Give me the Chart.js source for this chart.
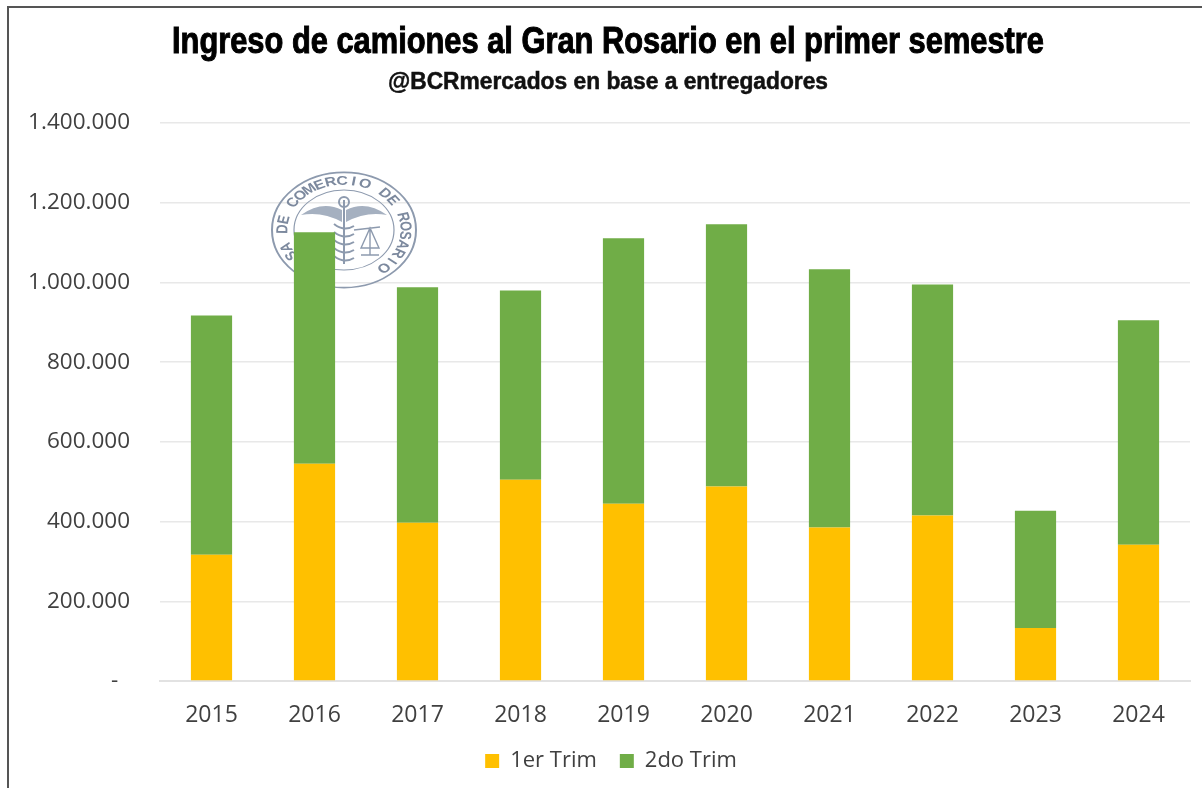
<!DOCTYPE html>
<html>
<head>
<meta charset="utf-8">
<title>Ingreso de camiones</title>
<script src="https://cdn.jsdelivr.net/npm/chart.js@4"></script>
<style>
    body { margin: 0; background: #fff; }
    #wrap { position: relative; width: 1202px; height: 788px; overflow: hidden; }
    #frame { position: absolute; left: 7px; top: 6px; width: 1200px; height: 800px; border-left: 2px solid #555; border-top: 2px solid #555; }
    canvas { position: absolute; left: 0; top: 0; }
</style>
</head>
<body>
<div id="wrap">
    <div id="frame"></div>
    <canvas id="truckChart" width="1202" height="788"></canvas>
</div>
<script>
const years = ['2015', '2016', '2017', '2018', '2019', '2020', '2021', '2022', '2023', '2024'];
const firstQuarter = [317000, 545000, 397000, 505000, 445000, 488000, 385000, 415000, 133000, 342000];
const secondQuarter = [600000, 581000, 591000, 475000, 666000, 658000, 648000, 580000, 294000, 563000];
const titleText = 'Ingreso de camiones al Gran Rosario en el primer semestre';
const subtitleText = '@BCRmercados en base a entregadores';
const sealText = 'BOLSA DE COMERCIO DE ROSARIO';

// Condensed headings: no narrow font is installed, so squeeze them with maxWidth
const headingPlugin = {
    id: 'heading',
    afterLayout(chart) {
        // legend sits a little right of the page centre
        chart.legend.left += 12;
    },
    afterDraw(chart) {
        const ctx = chart.ctx;
        ctx.save();
        ctx.textAlign = 'left';
        ctx.textBaseline = 'alphabetic';
        ctx.fillStyle = '#000';
        ctx.strokeStyle = '#000';
        ctx.font = 'bold 36px "Liberation Sans"';
        ctx.lineWidth = 1;
        ctx.fillText(titleText, 172, 53, 872);
        ctx.strokeText(titleText, 172, 53, 872);
        ctx.font = 'bold 23px "Liberation Sans"';
        ctx.fillStyle = '#111';
        ctx.strokeStyle = '#111';
        ctx.lineWidth = 0.5;
        ctx.fillText(subtitleText, 388, 89, 440);
        ctx.strokeText(subtitleText, 388, 89, 440);
        ctx.restore();
    }
};

// Seal printed behind the bars
const sealPlugin = {
    id: 'seal',
    beforeDatasetsDraw(chart) {
        const ctx = chart.ctx;
        const cx = 344, cy = 230;
        ctx.save();
        ctx.filter = 'blur(0.6px)';
        ctx.translate(cx, cy);
        ctx.scale(1, 0.8);
        ctx.strokeStyle = '#8d9aae';
        ctx.lineWidth = 2;
        ctx.beginPath();
        ctx.arc(0, 0, 72, 0, Math.PI * 2);
        ctx.stroke();
        ctx.lineWidth = 1.2;
        ctx.beginPath();
        ctx.arc(0, 0, 50, 0, Math.PI * 2);
        ctx.stroke();

        // lettering around the ring
        ctx.fillStyle = '#7c899e';
        ctx.font = 'bold 16px "Liberation Sans"';
        ctx.textAlign = 'center';
        ctx.textBaseline = 'middle';
        const step = 0.19;
        const start = 0.87 - (sealText.length - 1) * step;
        for (let i = 0; i < sealText.length; i++) {
            ctx.save();
            ctx.rotate(start + i * step);
            ctx.translate(61, 0);
            ctx.rotate(Math.PI / 2);
            ctx.fillText(sealText[i], 0, 0);
            ctx.restore();
        }
        ctx.restore();

        // caduceus and scale
        ctx.save();
        ctx.filter = 'blur(0.6px)';
        ctx.translate(cx, cy);
        ctx.strokeStyle = '#8d9aae';
        ctx.fillStyle = '#a5b0c0';
        ctx.lineWidth = 2;
        ctx.beginPath();
        ctx.moveTo(0, -30);
        ctx.lineTo(0, 34);
        ctx.stroke();
        ctx.beginPath();
        ctx.arc(0, -28, 5, 0, Math.PI * 2);
        ctx.stroke();
        for (const side of [-1, 1]) {
            ctx.beginPath();
            ctx.moveTo(side * 2, -20);
            ctx.quadraticCurveTo(side * 22, -30, side * 43, -15);
            ctx.quadraticCurveTo(side * 22, -19, side * 2, -8);
            ctx.closePath();
            ctx.fill();
        }
        ctx.beginPath();
        for (let i = 0; i < 5; i++) {
            const y = -6 + i * 8;
            ctx.moveTo(-10, y);
            ctx.quadraticCurveTo(0, y + 8, 10, y + 2);
        }
        ctx.stroke();
        // scale
        ctx.lineWidth = 1.4;
        ctx.beginPath();
        ctx.moveTo(10, 0);
        ctx.lineTo(36, -3);
        ctx.moveTo(26, -2);
        ctx.lineTo(17, 18);
        ctx.lineTo(35, 18);
        ctx.closePath();
        ctx.moveTo(26, -2);
        ctx.lineTo(26, 25);
        ctx.moveTo(17, 25);
        ctx.lineTo(35, 25);
        ctx.stroke();
        ctx.restore();
    }
};

new Chart(document.getElementById('truckChart'), {
    type: 'bar',
    data: {
        labels: years,
        datasets: [
            { label: '1er Trim', data: firstQuarter, backgroundColor: '#FFC000' },
            { label: '2do Trim', data: secondQuarter, backgroundColor: '#70AD47' }
        ]
    },
    options: {
        responsive: false,
        animation: false,
        layout: { padding: { left: 20, right: 12, top: 123, bottom: 6 } },
        datasets: { bar: { categoryPercentage: 1, barPercentage: 0.4 } },
        scales: {
            x: {
                stacked: true,
                afterFit: scale => { scale.height = 46; },
                grid: { display: false },
                border: { color: '#e2e2e2', width: 2 },
                ticks: { color: '#404040', font: { family: 'Open Sans', size: 23 }, padding: 13 }
            },
            y: {
                stacked: true,
                min: 0,
                max: 1400000,
                afterFit: scale => { scale.width = 140; },
                grid: { color: '#e8e8e8', lineWidth: 1.5, drawTicks: false },
                border: { display: false },
                ticks: {
                    stepSize: 200000,
                    color: '#404040',
                    padding: 30,
                    font: { family: 'Open Sans', size: 22.5 },
                    callback: v => v === 0 ? '-\u00a0\u00a0' : v.toLocaleString('de-DE')
                }
            }
        },
        plugins: {
            title: { display: false },
            legend: {
                position: 'bottom',
                labels: {
                    boxWidth: 14,
                    boxHeight: 14,
                    color: '#404040',
                    font: { family: 'Open Sans', size: 22 },
                    padding: 23
                }
            },
            tooltip: { enabled: false }
        }
    },
    plugins: [sealPlugin, headingPlugin]
});
</script>
</body>
</html>
